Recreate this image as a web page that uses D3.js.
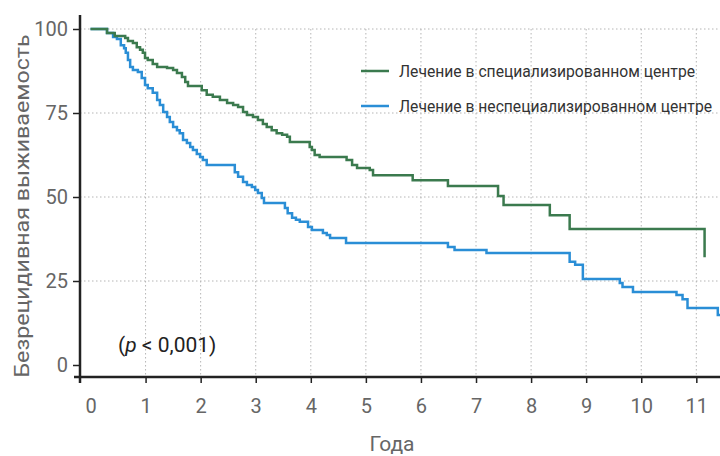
<!DOCTYPE html>
<html>
<head>
<meta charset="utf-8">
<script src="https://cdn.jsdelivr.net/npm/d3@7"></script>
<style>
  body { margin: 0; background: #fff; }
  svg { display: block; font-family: Roboto, "Open Sans", sans-serif; }
</style>
</head>
<body>
<div id="chart"></div>
<script>
// series: years and survival (%)
var specTime = [0, 0.30, 0.44, 0.63, 0.68, 0.77, 0.84, 0.90, 0.95, 0.99, 1.04, 1.13, 1.21, 1.39, 1.50, 1.57, 1.66, 1.72, 1.77,
  2.02, 2.11, 2.22, 2.35, 2.48, 2.59, 2.68, 2.77, 2.84, 2.95, 3.04, 3.13, 3.20, 3.29, 3.38, 3.48, 3.57, 3.62,
  3.98, 4.02, 4.07, 4.16, 4.65, 4.75, 4.84, 5.07, 5.13, 5.85, 6.49, 7.40, 7.50, 8.34, 8.70, 11.15];
var specSurv = [100, 98.8, 97.9, 97.3, 96.4, 95.8, 94.6, 93.8, 92.9, 91.4, 90.8, 89.6, 88.7, 88.4, 87.8, 86.9, 85.7, 84.2, 83.0,
  81.8, 80.4, 79.8, 78.9, 78.0, 77.4, 76.8, 75.3, 74.4, 73.8, 72.9, 71.7, 70.8, 69.9, 69.0, 68.5, 67.9, 66.4,
  64.9, 64.0, 62.5, 61.9, 61.0, 59.5, 58.6, 58.0, 56.5, 55.0, 53.3, 50.3, 47.6, 44.6, 40.5, 32.1];

var nonTime = [0, 0.30, 0.41, 0.48, 0.55, 0.61, 0.64, 0.68, 0.72, 0.77, 0.86, 0.93, 0.99, 1.04, 1.13, 1.21, 1.26, 1.32, 1.39,
  1.44, 1.50, 1.57, 1.62, 1.68, 1.75, 1.81, 1.86, 1.93, 1.99, 2.04, 2.11, 2.62, 2.68, 2.77, 2.84, 2.93, 2.99,
  3.04, 3.11, 3.15, 3.53, 3.58, 3.66, 3.73, 3.80, 3.95, 4.02, 4.22, 4.29, 4.35, 4.64, 6.49, 6.61, 7.19,
  8.70, 8.80, 8.94, 9.61, 9.66, 9.85, 10.64, 10.75, 10.84, 11.39, 11.45];
var nonSurv = [100, 98.8, 97.6, 97.0, 95.2, 94.3, 92.9, 90.8, 88.7, 87.8, 87.2, 85.4, 83.3, 82.4, 81.0, 78.9, 77.4, 75.3, 73.8,
  72.3, 70.8, 69.9, 69.0, 67.0, 66.1, 64.9, 64.0, 62.8, 61.9, 61.0, 59.5, 57.4, 56.0, 54.5, 53.6, 53.0, 52.1,
  51.2, 49.7, 48.2, 46.7, 45.2, 43.8, 43.2, 42.6, 41.1, 40.2, 39.3, 38.7, 37.8, 36.3, 35.1, 34.2, 33.3,
  30.7, 29.8, 25.6, 24.4, 23.2, 21.7, 20.8, 19.6, 17.0, 14.9, 14.9];

var xTicks = [0, 1, 2, 3, 4, 5, 6, 7, 8, 9, 10, 11];
var yTicks = [0, 25, 50, 75, 100];

var seriesNames = ["Лечение в специализированном центре", "Лечение в неспециализированном центре"];
var seriesColors = ["#3b7a4e", "#2a8ed6"];

var width = 720, height = 456;
var axisX = 80, axisY = 377;

var x = d3.scaleLinear().domain([0, 11.43]).range([90.5, 720]);
var y = d3.scaleLinear().domain([0, 100]).range([365, 29]);

var svg = d3.select("#chart").append("svg")
  .attr("width", width)
  .attr("height", height);

// grid
svg.append("g")
  .selectAll("line")
  .data(yTicks.filter(function(d) { return d > 0; }))
  .enter().append("line")
  .attr("x1", axisX).attr("x2", width)
  .attr("y1", function(d) { return y(d); })
  .attr("y2", function(d) { return y(d); })
  .attr("stroke", "#b5b5b5")
  .attr("stroke-width", 1)
  .attr("stroke-dasharray", "1.5,2.5");

svg.append("g")
  .selectAll("line")
  .data(xTicks.filter(function(d) { return d > 0; }))
  .enter().append("line")
  .attr("x1", function(d) { return x(d); })
  .attr("x2", function(d) { return x(d); })
  .attr("y1", y(100)).attr("y2", axisY)
  .attr("stroke", "#b5b5b5")
  .attr("stroke-width", 1)
  .attr("stroke-dasharray", "1.5,2.5");

// axes
var yAxis = svg.append("g")
  .attr("transform", "translate(" + axisX + ",0)")
  .call(d3.axisLeft(y).tickValues(yTicks).tickSize(7).tickPadding(5).tickSizeOuter(0));
yAxis.select(".domain").remove();
yAxis.selectAll(".tick line").attr("stroke", "#222").attr("stroke-width", 1.5);
yAxis.selectAll(".tick text")
  .attr("fill", "#666")
  .style("font-size", "20px")
  .style("font-family", "Roboto, sans-serif");

var xAxis = svg.append("g")
  .attr("transform", "translate(0," + axisY + ")")
  .call(d3.axisBottom(x).tickValues(xTicks).tickSize(6).tickPadding(16).tickSizeOuter(0));
xAxis.select(".domain").remove();
xAxis.selectAll(".tick line")
  .attr("stroke", "#222").attr("stroke-width", 1.5)
  .attr("display", function(d) { return d === 0 ? "none" : null; });
xAxis.selectAll(".tick text")
  .attr("fill", "#666")
  .style("font-size", "20px")
  .style("font-family", "Roboto, sans-serif");

svg.append("line")
  .attr("x1", axisX).attr("x2", axisX)
  .attr("y1", 15).attr("y2", axisY + 6)
  .attr("stroke", "#222").attr("stroke-width", 2.5);
svg.append("line")
  .attr("x1", axisX - 6).attr("x2", width)
  .attr("y1", axisY).attr("y2", axisY)
  .attr("stroke", "#222").attr("stroke-width", 2.5);

// curves
var line = d3.line()
  .x(function(d) { return x(d[0]); })
  .y(function(d) { return y(d[1]); })
  .curve(d3.curveStepAfter);

var curves = [
  d3.zip(nonTime, nonSurv),
  d3.zip(specTime, specSurv)
];
var curveColors = [seriesColors[1], seriesColors[0]];

svg.append("g")
  .selectAll("path")
  .data(curves)
  .enter().append("path")
  .attr("d", line)
  .attr("fill", "none")
  .attr("stroke", function(d, i) { return curveColors[i]; })
  .attr("stroke-width", 2.5);

// legend
var legend = svg.append("g");
var legendY = [71, 106];
var legendLen = [296, 313];
seriesNames.forEach(function(name, i) {
  legend.append("line")
    .attr("x1", 361).attr("x2", 389)
    .attr("y1", legendY[i]).attr("y2", legendY[i])
    .attr("stroke", seriesColors[i]).attr("stroke-width", 2.5);
  legend.append("text")
    .attr("x", 399).attr("y", legendY[i] + 6)
    .attr("fill", "#333")
    .style("font-size", "16px")
    .attr("textLength", legendLen[i])
    .attr("lengthAdjust", "spacingAndGlyphs")
    .text(name);
});

// p value
var pText = svg.append("text")
  .attr("x", 118).attr("y", 352)
  .attr("fill", "#222")
  .style("font-size", "21px");
pText.append("tspan").text("(");
pText.append("tspan").style("font-style", "italic").text("p");
pText.append("tspan").text(" < 0,001)");

// axis titles
svg.append("text")
  .attr("transform", "translate(29,206) rotate(-90)")
  .attr("text-anchor", "middle")
  .attr("fill", "#666")
  .style("font-size", "20px")
  .attr("textLength", 343)
  .attr("lengthAdjust", "spacingAndGlyphs")
  .text("Безрецидивная выживаемость");

svg.append("text")
  .attr("x", 392).attr("y", 451)
  .attr("text-anchor", "middle")
  .attr("fill", "#666")
  .style("font-size", "21px")
  .text("Года");
</script>
</body>
</html>
